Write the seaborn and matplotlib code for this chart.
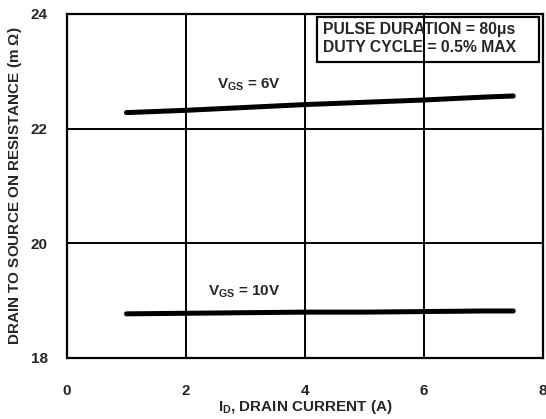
import matplotlib
matplotlib.use('Agg')
import matplotlib.pyplot as plt
from matplotlib.patches import Rectangle
import pandas as pd
import seaborn as sns

# Data
current = [1.0, 2.0, 3.0, 4.0, 5.0, 6.0, 7.0, 7.5]
r_vgs6 = [22.28, 22.32, 22.37, 22.42, 22.46, 22.50, 22.55, 22.57]
r_vgs10 = [18.77, 18.78, 18.79, 18.80, 18.80, 18.81, 18.82, 18.82]
x_ticks = [0, 2, 4, 6, 8]
y_ticks = [18, 20, 22, 24]

df = pd.DataFrame({
    'current': current * 2,
    'resistance': r_vgs6 + r_vgs10,
    'vgs': ['6V'] * len(current) + ['10V'] * len(current),
})

sns.set_style('white')
plt.rcParams['font.family'] = ['Liberation Sans', 'DejaVu Sans']
plt.rcParams['font.weight'] = 'bold'
plt.rcParams['mathtext.fontset'] = 'custom'
plt.rcParams['mathtext.rm'] = 'Liberation Sans:bold'
plt.rcParams['mathtext.it'] = 'Liberation Sans:bold'
plt.rcParams['mathtext.bf'] = 'Liberation Sans:bold'
plt.rcParams['mathtext.default'] = 'bf'

fig = plt.figure(figsize=(5.46, 4.19), dpi=100)
ax = fig.add_axes([0.1227, 0.1456, 0.8718, 0.821])

sns.lineplot(data=df, x='current', y='resistance', units='vgs', estimator=None,
             color='black', linewidth=3.6, ax=ax, legend=False)

ax.set_xlim(0, 8)
ax.set_ylim(18, 24)
ax.set_xticks(x_ticks)
ax.set_yticks(y_ticks)
ax.grid(True, color='black', linewidth=1.4)
for s in ax.spines.values():
    s.set_color('black')
    s.set_linewidth(1.6)
ax.tick_params(axis='x', length=0, pad=19, labelsize=11)
ax.tick_params(axis='y', length=0, pad=14, labelsize=11)
for lbl in ax.get_xticklabels() + ax.get_yticklabels():
    lbl.set_fontweight('bold')

ax.set_xlabel(r'$I_D$, DRAIN CURRENT (A)', fontsize=11, fontweight='bold', labelpad=0)
ax.set_ylabel(r'DRAIN TO SOURCE ON RESISTANCE (m $\Omega$)', fontsize=11,
              fontweight='bold', labelpad=5)

ax.text(2.52, 22.77, r'$V_{GS}$ = 6V', fontsize=11, fontweight='bold', va='center')
ax.text(2.37, 19.15, r'$V_{GS}$ = 10V', fontsize=11, fontweight='bold', va='center')

# note box
ax.add_patch(Rectangle((0.525, 0.860), 0.4666, 0.131, transform=ax.transAxes,
                       facecolor='none', edgecolor='black', linewidth=1.6,
                       clip_on=False))
ax.text(0.537, 0.978, 'PULSE DURATION = 80\u03bcs\nDUTY CYCLE = 0.5% MAX',
        transform=ax.transAxes, fontsize=11.3, fontweight='bold', va='top', ha='left',
        linespacing=1.3)

fig.savefig('out.png', dpi=100)
